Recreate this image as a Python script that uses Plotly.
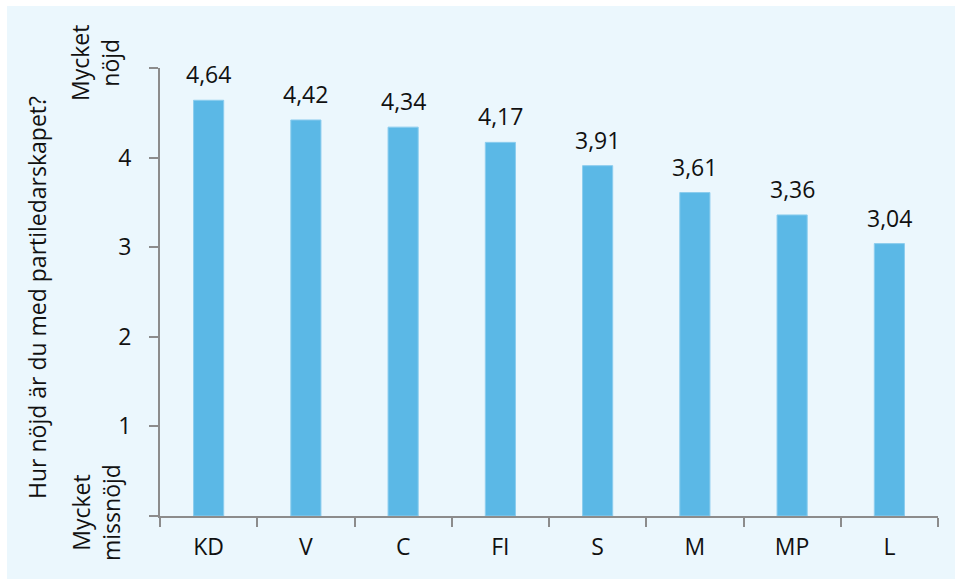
import plotly.graph_objects as go

categories = ["KD", "V", "C", "FI", "S", "M", "MP", "L"]
values = [4.64, 4.42, 4.34, 4.17, 3.91, 3.61, 3.36, 3.04]
y_tickvals = [0, 1, 2, 3, 4, 5]
y_ticktext = ["", "1", "2", "3", "4", ""]
y_title = "Hur nöjd är du med partiledarskapet?"
top_label = "Mycket<br>nöjd"
bottom_label = "Mycket<br>missnöjd"

FONT = "Open Sans"
FS = 23
TXT = "#111111"
BG = "#ebf7fd"
# page body has an 8px margin; figure sized to fill the rest of the window
OFF = 8
W, H = 955 - OFF, 579 - OFF - 2
L, R, T, B = 160 - OFF, 17, 68 - OFF, 61
pw = W - L - R
ph = H - T - B


def fx(screen_x):
    return (screen_x - OFF - L) / pw


def fy(screen_y):
    return (H - B - (screen_y - OFF)) / ph


fig = go.Figure()
fig.add_trace(go.Bar(
    x=categories, y=values,
    marker=dict(color="#5bb8e6", line=dict(color="#8ccdee", width=1)),
    hoverinfo="x+y",
))

for c, v in zip(categories, values):
    fig.add_annotation(x=c, y=v, text=f"{v:.2f}".replace(".", ","),
                       showarrow=False, yanchor="bottom", yshift=8,
                       font=dict(family=FONT, size=FS, color=TXT))

fig.add_annotation(xref="paper", yref="paper", x=fx(37), y=fy(298),
                   text=y_title, textangle=-90, showarrow=False,
                   xanchor="center", yanchor="middle",
                   font=dict(family=FONT, size=FS, color=TXT))
fig.add_annotation(xref="paper", yref="paper", x=fx(95), y=fy(63),
                   text=top_label, textangle=-90, showarrow=False,
                   xanchor="center", yanchor="middle",
                   font=dict(family=FONT, size=FS, color=TXT))
fig.add_annotation(xref="paper", yref="paper", x=fx(96), y=fy(513),
                   text=bottom_label, textangle=-90, showarrow=False,
                   xanchor="center", yanchor="middle",
                   font=dict(family=FONT, size=FS, color=TXT))

fig.update_layout(
    width=W, height=H,
    margin=dict(l=L, r=R, t=T, b=B),
    paper_bgcolor=BG, plot_bgcolor="rgba(0,0,0,0)",
    bargap=0.69, showlegend=False,
    font=dict(family=FONT, size=FS, color=TXT),
    xaxis=dict(showline=True, linecolor="#8c8c8c", linewidth=2,
               ticks="outside", ticklen=9, tickcolor="#8c8c8c", tickwidth=2,
               tickson="boundaries", showgrid=False, ticklabelstandoff=9,
               tickfont=dict(family=FONT, size=FS, color=TXT)),
    yaxis=dict(range=[0, 5], tickvals=y_tickvals, ticktext=y_ticktext,
               showline=True, linecolor="#8c8c8c", linewidth=2,
               ticks="outside", ticklen=9, tickcolor="#8c8c8c", tickwidth=2,
               showgrid=False, zeroline=False, ticklabelstandoff=13,
               tickfont=dict(family=FONT, size=FS, color=TXT)),
)

fig.write_html(
    "out.html",
    post_script=(
        "var d=document.documentElement;"
        "d.style.overflow='hidden';document.body.style.overflow='hidden';"
        "d.style.minHeight='100%';"
        "d.style.background='linear-gradient(to right, #fff 7px, rgba(255,255,255,0) 7px),"
        " linear-gradient(to bottom, #fff 6px, " + BG + " 6px)';"
    ),
)
